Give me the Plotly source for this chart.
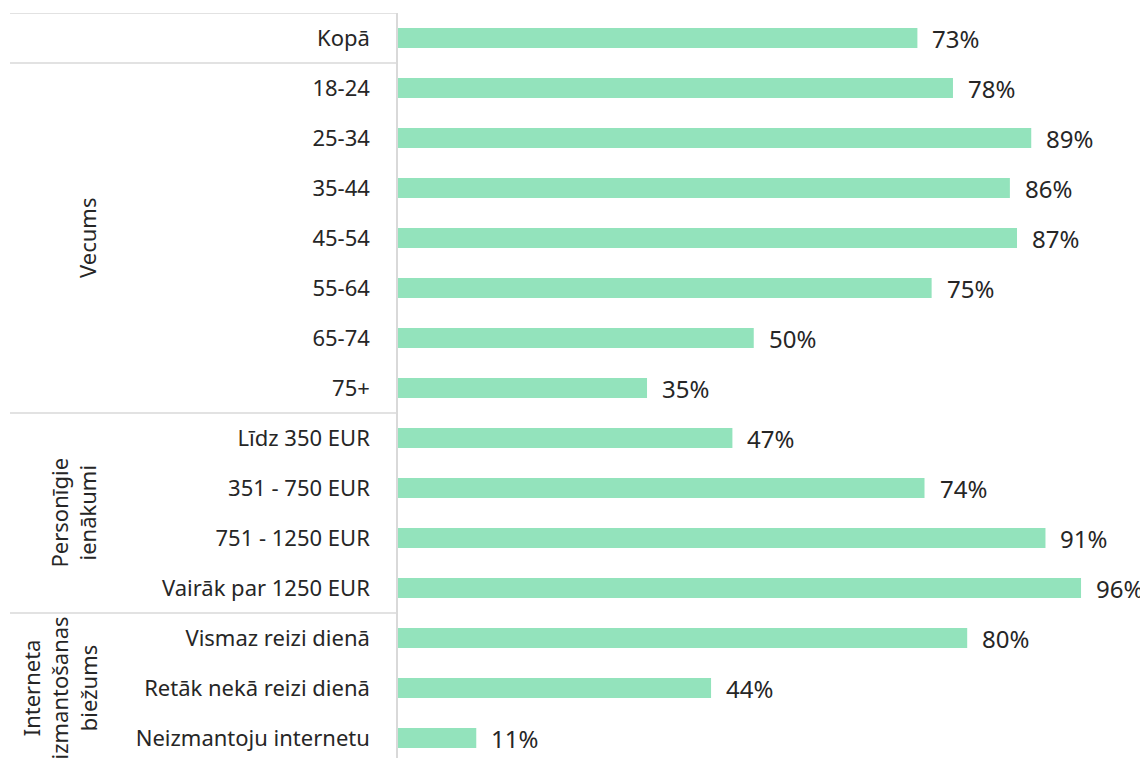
import plotly.graph_objects as go

categories = ["Kopā", "18-24", "25-34", "35-44", "45-54", "55-64", "65-74", "75+",
              "Līdz 350 EUR", "351 - 750 EUR", "751 - 1250 EUR", "Vairāk par 1250 EUR",
              "Vismaz reizi dienā", "Retāk nekā reizi dienā", "Neizmantoju internetu"]
values = [73, 78, 89, 86, 87, 75, 50, 35, 47, 74, 91, 96, 80, 44, 11]
groups = [("Vecums", 1, 7), ("Personīgie<br>ienākumi", 8, 11),
          ("Interneta<br>izmantošanas<br>biežums", 12, 14)]
separators = [-0.5, 0.5, 7.5, 11.5]

BAR = "#93E3BC"
TXT = "#262626"
GRID = "#D9D9D9"
FONT = "Noto Sans"

OFF = 8  # page offset
W, H = 1148 - OFF, 758 - OFF
L, T = 398 - OFF, 13 - OFF
plot_w = W - L
PX_PER = 7.115

rows = list(range(len(categories)))

fig = go.Figure()
fig.add_trace(go.Bar(
    x=values, y=rows, orientation="h", width=0.4,
    marker=dict(color=BAR, line=dict(width=0)),
    hoverinfo="skip",
))

for r, v in zip(rows, values):
    fig.add_annotation(x=v, y=r, xref="x", yref="y", text=f"{v}%", showarrow=False,
                       xanchor="left", yanchor="middle", xshift=13,
                       font=dict(family=FONT, size=24, color=TXT))

x_left = (10 - OFF - L) / plot_w
for s in separators:
    fig.add_shape(type="line", xref="paper", yref="y", x0=x_left, x1=0, y0=s, y1=s,
                  line=dict(color=GRID, width=1.5), layer="above")

for label, a, b in groups:
    fig.add_annotation(x=(104 - OFF - L) / plot_w, xref="paper", y=(a + b) / 2, yref="y",
                       text=label, textangle=-90, showarrow=False,
                       xanchor="right", yanchor="middle", align="center",
                       font=dict(family=FONT, size=22, color=TXT))

fig.update_layout(
    width=W, height=H,
    margin=dict(l=L, r=0, t=T, b=0, pad=0),
    plot_bgcolor="white", paper_bgcolor="white",
    showlegend=False,
    font=dict(family=FONT, size=22, color=TXT),
    xaxis=dict(range=[0, plot_w / PX_PER], showgrid=False, zeroline=False,
               showticklabels=False, showline=False, fixedrange=True),
    yaxis=dict(range=[14.4, -0.5], tickvals=rows, ticktext=categories,
               showgrid=False, zeroline=False, showline=True, linecolor=GRID, linewidth=1.5,
               ticks="outside", ticklen=22, tickcolor="rgba(0,0,0,0)",
               tickfont=dict(family=FONT, size=22, color=TXT), fixedrange=True),
)

fig.write_html("out.html")
